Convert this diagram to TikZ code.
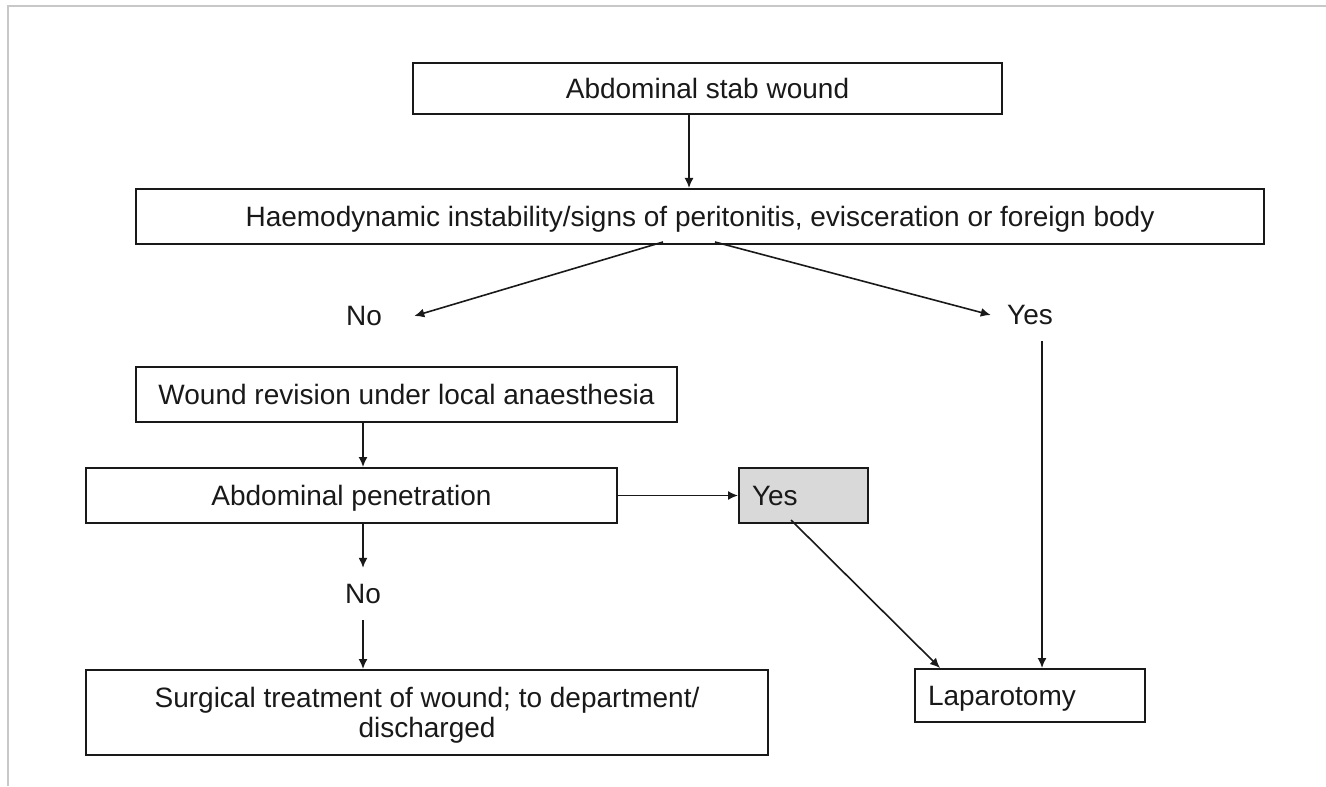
\documentclass[tikz,border=0pt]{standalone}
\usepackage{fontspec}
\setmainfont{Liberation Sans}
\usetikzlibrary{arrows.meta,calc}
\definecolor{boxgray}{RGB}{217,217,217}
\definecolor{framegray}{RGB}{200,200,200}
\definecolor{inkcol}{RGB}{25,25,25}
\begin{document}
\begin{tikzpicture}[x=0.5pt,y=-0.5pt,
  font=\fontsize{14pt}{15pt}\selectfont,
  box/.style={draw=inkcol, line width=1pt, inner sep=0pt, align=center, text=inkcol, text depth=0pt},
  lbl/.style={inner sep=8pt, text=inkcol},
  arr/.style={-{Latex[length=5pt,width=4.5pt]}, line width=0.8pt, draw=inkcol},
  frameline/.style={draw=framegray, line width=1pt}]
\useasboundingbox (0,0) rectangle (1326,786);
\draw[frameline] (8,786) -- (8,6) -- (1326,6);

\node[box, minimum width=294.5pt, minimum height=25.5pt] (top) at (707.5,88.5) {Abdominal stab wound};
\node[box, minimum width=564pt, minimum height=27.5pt] (box2) at (700,216.5)
  {Haemodynamic instability/signs of peritonitis, evisceration or foreign body};
\node[lbl, inner xsep=16pt] (nol) at (364,316) {No};
\node[lbl] (yesr) at (1030,315) {Yes};
\node[box, minimum width=270.5pt, minimum height=27.5pt] (wound) at (406.5,394.5) {Wound revision under local anaesthesia};
\node[box, minimum width=265.5pt, minimum height=27.5pt] (pen) at (351.5,495.5) {Abdominal penetration};
\node[box, fill=boxgray, inner xsep=6.5pt, text width=51.5pt, align=left, minimum height=27.5pt] (yesg) at (803.5,495.5) {Yes};
\node[lbl] (nob) at (363,594) {No};
\node[box, minimum width=341pt, minimum height=42.5pt] (surg) at (427,712.5)
  {Surgical treatment of wound; to department/\\discharged};
\node[box, inner xsep=6.5pt, text width=102pt, align=left, minimum height=26.5pt] (lap) at (1030,695.5) {Laparotomy};

\draw[arr] ([xshift=-9.25pt]top.south) -- ([xshift=-9.25pt]top.south |- box2.north);
\draw[arr] ([xshift=-18.5pt,yshift=1.5pt]box2.south) -- (nol.east);
\draw[arr] ([xshift=7.5pt,yshift=1.5pt]box2.south) -- (yesr.west);
\draw[arr] ([xshift=6pt]yesr.south) -- ([xshift=6pt]yesr.south |- lap.north);
\draw[arr] ([xshift=-21.75pt]wound.south) -- ([xshift=-21.75pt]wound.south |- pen.north);
\draw[arr] (pen.east) -- (yesg.west);
\draw[arr] ([xshift=-6.25pt,yshift=2pt]yesg.south) -- ([xshift=-45pt]lap.north);
\draw[arr] (pen.south -| nob.north) -- (nob.north);
\draw[arr] (nob.south) -- (nob.south |- surg.north);
\end{tikzpicture}
\end{document}
